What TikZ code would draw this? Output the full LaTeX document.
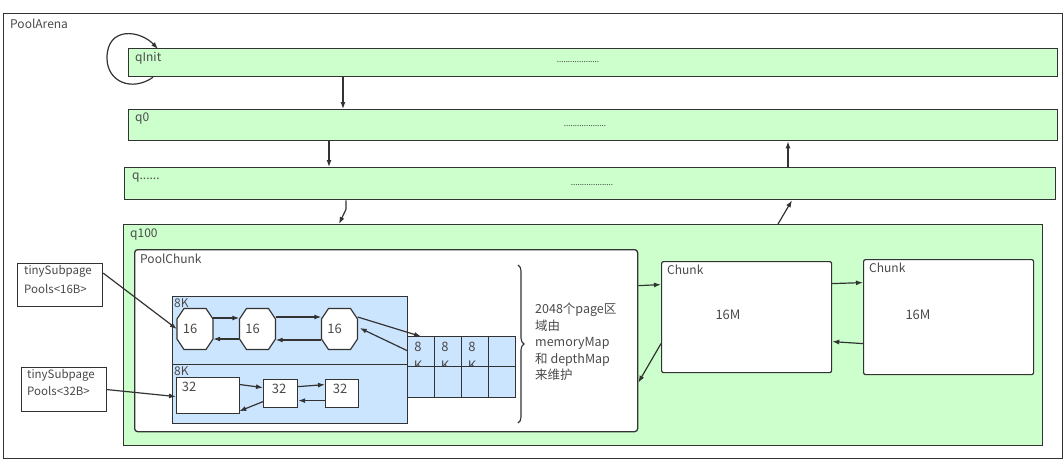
\documentclass[tikz,border=0pt]{standalone}
\usepackage{fontspec}
\setmainfont{Noto Sans CJK SC}
\usetikzlibrary{arrows.meta,calc,decorations.pathreplacing}
\definecolor{gfill}{HTML}{CCFFCC}
\definecolor{bfill}{HTML}{CCE5FF}
\definecolor{ln}{HTML}{333333}
\definecolor{tx}{HTML}{4A4A4A}
\newcommand\octnode[3]{%
  \node[minimum width=36pt, minimum height=41pt, inner sep=0pt] (#1) at (#2,#3) {};
  \draw[draw=ln, line width=1.2pt, fill=white] ($(#1.center)+(-11,-20.5)$) -- ++(22,0) -- ++(7,10.5) -- ++(0,20) -- ++(-7,10.5) -- ++(-22,0) -- ++(-7,-10.5) -- ++(0,-20) -- cycle;
  \node[lbl, anchor=center, font=\fontsize{13}{15}\selectfont] at ($(#1.center)+(-5,0)$) {16};
}
\begin{document}
\begin{tikzpicture}[x=1pt,y=-1pt,
  box/.style={draw=ln, line width=1.3pt, anchor=north west, inner sep=0pt},
  bar/.style={box, fill=gfill},
  wbox/.style={box, fill=white},
  bbox/.style={box, fill=bfill},
  lbl/.style={anchor=west, inner sep=0pt, text=tx, font=\fontsize{12}{14}\selectfont},
  dots/.style={anchor=center, inner sep=0pt, text=ln, font=\fontsize{8}{10}\selectfont},
  arr/.style={draw=ln, line width=1.2pt, -{Latex[length=7pt,width=5pt]}},
]
\useasboundingbox (0,0) rectangle (1063,463);
% outer arena
\node[draw=ln, line width=1pt, anchor=north west, inner sep=0pt, minimum width=1059pt, minimum height=445pt] (arena) at (3,13) {};
\node[lbl] (arenal) at (10,24) {PoolArena};

% bars
\node[bar, minimum width=929pt, minimum height=28pt] (qinit) at (128,48) {};
\node[lbl] (qinitl) at (135,58) {qInit};
\node[dots] (qinitd) at (578,62) {...................};

\node[bar, minimum width=929pt, minimum height=31pt] (q0) at (128,109) {};
\node[lbl] (q0l) at (135,119) {q0};
\node[dots] (q0d) at (585,126) {...................};

\node[bar, minimum width=931pt, minimum height=32pt] (qd) at (124,167) {};
\node[lbl] (qdl) at (132,178) {q......};
\node[dots] (qdd) at (592,185) {...................};

\node[bar, minimum width=919pt, minimum height=221pt] (q100) at (123,224) {};
\node[lbl] (q100l) at (130,235) {q100};

% loop on qInit
\draw[arr] ($(qinit.south west)+(25,0)$) .. controls (132,92) and (107,82) .. (107,58) .. controls (107,26) and (140,30) .. ($(qinit.north west)+(30,1)$);

% vertical arrows
\draw[arr] ($(qinit.south west)+(215,0)$) -- ($(q0.north west)+(215,0)$);
\draw[arr] ($(q0.south west)+(201,0)$) -- ($(qd.north west)+(205,0)$);
\draw[arr] ($(qd.south west)+(222,0)$) -- ++(0,9) -- ($(q100.north west)+(216,0)$);
\draw[arr] ($(q100.north west)+(655,0)$) -- ($(qd.south west)+(668,0)$);
\draw[arr] ($(qd.north west)+(664,0)$) -- ($(q0.south west)+(660,0)$);

% PoolChunk
\node[wbox, rounded corners=3pt, minimum width=503pt, minimum height=182pt] (pc) at (134,249) {};
\node[lbl] (pcl) at (140,259) {PoolChunk};

% blue regions
\node[bbox, minimum width=235pt, minimum height=68pt] (bl1) at (172,296) {};
\node[bbox, minimum width=235pt, minimum height=59pt] (bl2) at (172,364) {};
\node[lbl, font=\fontsize{12}{14}\selectfont] (bl1l) at (174,303) {8K};
\node[lbl, font=\fontsize{12}{14}\selectfont] (bl2l) at (174,371) {8K};

% octagons
\octnode{o1}{195}{329}
\octnode{o2}{257.5}{329}
\octnode{o3}{339.5}{329}

% page cells
\foreach \i/\x in {1/407,2/434,3/461,4/488}{
  \node[bbox, line width=1.1pt, minimum width=27pt, minimum height=30pt] (c\i) at (\x,336) {};
}
\foreach \i in {1,2,3}{
  \node[lbl, anchor=center, font=\fontsize{13}{15}\selectfont] (c\i a) at ($(c\i.center)+(-3,-5)$) {8};
  \node[lbl, anchor=center, font=\fontsize{13}{15}\selectfont] (c\i b) at ($(c\i.center)+(-3,14)$) {K};
}
\foreach \i/\x in {1/407,2/434,3/461,4/488}{
  \node[bbox, line width=1.1pt, minimum width=27pt, minimum height=31pt] (d\i) at (\x,366) {};
}

% 32 boxes
\node[wbox, line width=1.2pt, minimum width=63pt, minimum height=36pt] (b1) at (176,377) {};
\node[wbox, line width=1.2pt, minimum width=34pt, minimum height=28pt] (b2) at (263,379) {};
\node[wbox, line width=1.2pt, minimum width=33pt, minimum height=28pt] (b3) at (325,379) {};
\node[lbl, anchor=center, font=\fontsize{13}{15}\selectfont] (b1l) at (189,387) {32};
\node[lbl, anchor=center, font=\fontsize{13}{15}\selectfont] (b2l) at (279,389) {32};
\node[lbl, anchor=center, font=\fontsize{13}{15}\selectfont] (b3l) at (340,389) {32};

% arrows among octagons
\draw[arr] ($(o1.east)+(0,-11)$) -- ($(o2.west)+(0,-11)$);
\draw[arr] ($(o2.west)+(0,10)$) -- ($(o1.east)+(0,10)$);
\draw[arr] ($(o2.east)+(0,-12)$) -- ($(o3.west)+(0,-12)$);
\draw[arr] ($(o3.west)+(0,11)$) -- ($(o2.east)+(0,11)$);
\draw[arr] ($(o3.east)+(0,-12)$) -- ($(c1.north)+(0,0.5)$);
\draw[arr] ($(c1.west)+(0,-1)$) -- ($(o3.east)+(2,-1)$);

% arrows among 32 boxes
\draw[arr] ($(b1.east)+(0,-11)$) -- ($(b2.west)+(0,-6)$);
\draw[arr] ($(b2.west)+(0,8)$) -- ($(b1.south east)+(-1,-3)$);
\draw[arr] ($(b2.east)+(0,-7)$) -- ($(b3.west)+(0,-9)$);
\draw[arr] ($(b3.west)+(0,7)$) -- ($(b2.east)+(0,7)$);

% tinySubpage boxes
\node[wbox, line width=1.2pt, minimum width=85pt, minimum height=43pt] (t1) at (17,263) {};
\node[lbl, anchor=north west, align=left, font=\fontsize{11.5}{19}\selectfont] (t1l) at (24,265) {tinySubpage\\Pools<16B>};
\node[wbox, line width=1.2pt, minimum width=85pt, minimum height=44pt] (t2) at (21,367) {};
\node[lbl, anchor=north west, align=left, font=\fontsize{11.5}{17.5}\selectfont] (t2l) at (27,369) {tinySubpage\\Pools<32B>};
\draw[arr] ($(t1.east)+(0,-12)$) -- (o1.west);
\draw[arr] ($(t2.east)+(0,0)$) -- ($(b1.west)+(0,1)$);

% brace and text
\draw[draw=ln, line width=1.1pt, decorate, decoration={brace, amplitude=6pt}] (518,265) -- (518,423);
\node[lbl, anchor=north west, align=left, font=\fontsize{12.5}{16.5}\selectfont] (bt) at (535,303) {2048个page区\\域由\\memoryMap\\和 depthMap\\来维护};

% chunks
\node[wbox, rounded corners=2pt, line width=1.2pt, minimum width=170pt, minimum height=111pt] (ch1) at (661,261) {};
\node[lbl] (ch1l) at (667,270) {Chunk};
\node[lbl, anchor=center, font=\fontsize{13}{15}\selectfont] (ch1m) at (728,315) {16M};
\node[wbox, rounded corners=2pt, line width=1.2pt, minimum width=170pt, minimum height=115pt] (ch2) at (863,259) {};
\node[lbl] (ch2l) at (869,268) {Chunk};
\node[lbl, anchor=center, font=\fontsize{13}{15}\selectfont] (ch2m) at (918,315) {16M};

\draw[arr] ($(pc.east)+(0,-55)$) -- ($(ch1.west)+(0,-32.5)$);
\draw[arr] ($(ch1.west)+(0,26.5)$) -- ($(pc.east)+(0,42)$);
\draw[arr] ($(ch1.east)+(0,-33.5)$) -- ($(ch2.west)+(0,-34.5)$);
\draw[arr] ($(ch2.west)+(0,26.5)$) -- ($(ch1.east)+(0,24.5)$);
\end{tikzpicture}
\end{document}
